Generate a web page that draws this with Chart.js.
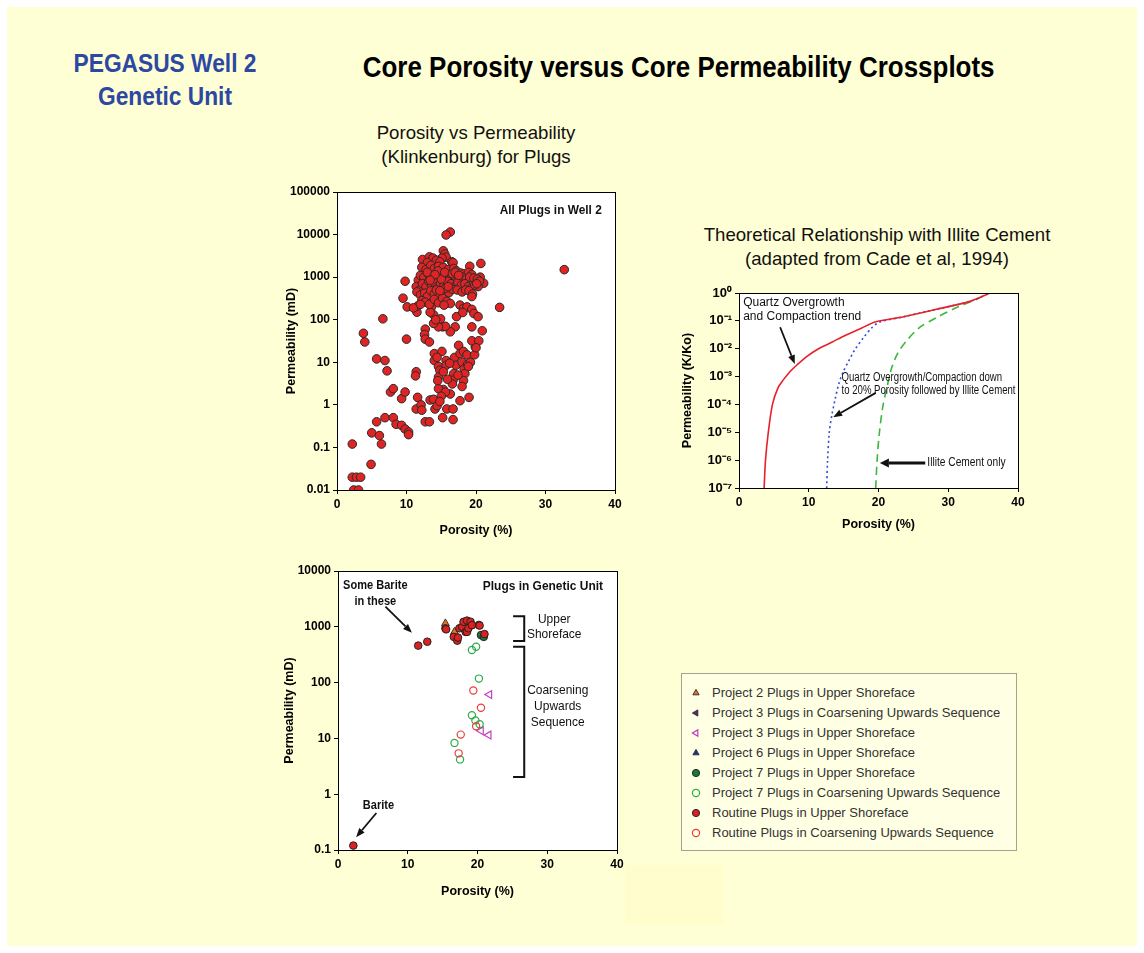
<!DOCTYPE html>
<html>
<head>
<meta charset="utf-8">
<title>Core Porosity versus Core Permeability Crossplots</title>
<script src="https://cdn.jsdelivr.net/npm/chart.js@4.4.1/dist/chart.umd.min.js"></script>
<style>
  body { margin: 0; width: 1144px; height: 953px; background: #fff; position: relative; overflow: hidden;
         font-family: "Liberation Sans", Arial, sans-serif; }
  .sheet { position: absolute; left: 7px; top: 7px; width: 1130px; height: 939px; background: #ffffd5; }
  .ghost { position: absolute; left: 625px; top: 865px; width: 98px; height: 60px; background: #fffdcc; }
  .ttl { position: absolute; text-align: center; white-space: nowrap; transform-origin: 50% 50%; }
  .well { left: 40px; width: 250px; top: 47px; font-size: 25px; line-height: 33px; font-weight: bold; color: #2c48a3; transform: scaleX(0.91); }
  .main { left: 326px; width: 700px; top: 50px; font-size: 29px; line-height: 34px; font-weight: bold; color: #000; transform: scaleX(0.895); }
  .sub1 { left: 326px; width: 300px; top: 121px; font-size: 19px; line-height: 24px; color: #111; transform: scaleX(0.98); }
  .sub2 { left: 677px; width: 400px; top: 223px; font-size: 19px; line-height: 24px; color: #111; transform: scaleX(0.98); }
  canvas { position: absolute; }
  #legend { position: absolute; left: 681px; top: 673px; width: 334px; height: 176px; border: 1px solid #a3a38c;
            background: #ffffe3; font-size: 13px; color: #333; }
  #legend .row { position: absolute; left: 0; height: 20px; line-height: 20px; white-space: nowrap; }
  #legend .row canvas { position: absolute; left: 8px; top: 4px; }
  #legend .row span { position: absolute; left: 30px; }
</style>
</head>
<body>
<div class="sheet"></div>
<div class="ghost"></div>
<div class="ttl well">PEGASUS Well 2<br>Genetic Unit</div>
<div class="ttl main">Core Porosity versus Core Permeability Crossplots</div>
<div class="ttl sub1">Porosity vs Permeability<br>(Klinkenburg) for Plugs</div>
<div class="ttl sub2">Theoretical Relationship with Illite Cement<br>(adapted from Cade et al, 1994)</div>

<canvas id="allPlugs" width="360" height="360" style="left:270px;top:180px"></canvas>
<canvas id="theory" width="370" height="260" style="left:670px;top:280px"></canvas>
<canvas id="genetic" width="360" height="345" style="left:270px;top:560px"></canvas>
<div id="legend"></div>

<script>
// shared axis ticks
const porosityTicks = [0, 10, 20, 30, 40];

// top left: all plugs in well 2, [porosity %, permeability mD]
const plugsLow = [
  [2.2, 0.12], [2.2, 0.02], [2.8, 0.02], [3.4, 0.02], [2.4, 0.01], [3.1, 0.01], [4.9, 0.04],
  [3.8, 48], [4.0, 30], [5.7, 12], [6.9, 11], [7.2, 6.3], [6.6, 105],
  [5.0, 0.22], [5.7, 0.4], [6.1, 0.19], [6.4, 0.12], [6.9, 0.5],
  [7.7, 2], [8.1, 2.4], [8.1, 0.5], [8.5, 0.35], [9.3, 1.4], [9.3, 0.33], [9.8, 2], [9.8, 0.27],
  [10.3, 0.23], [10.3, 0.2], [9.5, 320], [9.8, 800], [10.0, 35], [10.1, 200],
  [11.4, 6], [11.3, 4.8], [11.6, 1.5], [11.4, 0.8], [12.1, 1], [12.2, 0.75], [12.7, 0.4], [13.3, 0.4],
  [11.5, 150], [11.6, 210], [11.0, 190], [12.7, 60], [12.6, 45], [12.7, 35], [13.3, 30],
  [13.4, 1.3], [13.9, 1.35], [14.1, 0.8], [14.4, 0.95], [15.2, 0.5], [15.8, 0.8], [16.7, 0.8],
  [16.7, 0.45], [17.7, 1.25], [19.0, 1.5], [16.3, 1.8], [15.3, 2.3], [14.6, 2.4], [15.6, 2.0],
  [15.0, 1.6], [14.8, 1.2]
];
const plugsMid = [
  [14.0, 16], [14.0, 11], [15.1, 18], [14.6, 8], [14.8, 6.5], [14.6, 4.5], [14.5, 3.7], [15.7, 11],
  [15.7, 8.5], [16.8, 5.4], [16.7, 3.8], [16.6, 3.1], [16.9, 13], [17.1, 8.5], [17.5, 25], [17.7, 16],
  [18.0, 10], [18.2, 18], [18.3, 7], [18.4, 5.4], [18.2, 3.7], [18.0, 2.7], [18.8, 9], [18.7, 15],
  [19.2, 10], [19.8, 15], [19.9, 23], [19.4, 32], [20.4, 32], [20.0, 22], [15.3, 6], [15.9, 4],
  [17.4, 5], [18.9, 8], [16.2, 9.5], [14.4, 13],
  [19.4, 68], [20.9, 55], [17.0, 68], [17.2, 118], [16.3, 52], [15.2, 68], [15.6, 70], [14.6, 68],
  [13.9, 82], [14.9, 105], [13.9, 130], [13.6, 200], [17.7, 220], [18.2, 185], [18.7, 200],
  [18.1, 148], [19.4, 175], [19.7, 140], [20.3, 118], [23.4, 195], [14.2, 100], [13.4, 150]
];
const plugsHigh = [
  [32.7, 1500], [20.7, 2100], [19.1, 1800], [16.3, 11500], [15.7, 9800], [15.3, 4150], [15.5, 3500],
  [15.7, 2950], [15.1, 2800], [21.1, 720], [20.6, 1000], [20.3, 600],
  [12.3, 2600], [13.3, 3000], [13.8, 2800], [14.3, 2500], [14.8, 2300], [16.5, 2300], [16.7, 2200], [13.0, 2200],
  [12.2, 1700], [12.8, 1500], [13.5, 1900], [14.0, 1600], [14.6, 1800], [15.3, 1700], [16.0, 1500],
  [16.8, 1600], [17.2, 1400], [17.8, 1250], [18.3, 1200], [18.9, 1300], [19.4, 1150],
  [11.7, 850], [12.0, 1100], [12.5, 1000], [13.1, 1200], [13.7, 1100], [14.2, 1000], [14.8, 1200],
  [15.2, 950], [15.8, 1100], [16.3, 900], [17.0, 1050], [17.6, 950], [18.1, 1000], [18.6, 900],
  [19.1, 1000], [19.7, 950], [20.2, 900], [20.5, 800],
  [11.4, 600], [11.9, 500], [12.3, 700], [12.8, 600], [13.2, 800], [13.6, 650], [14.0, 750], [14.5, 600],
  [14.9, 700], [15.4, 650], [15.9, 800], [16.4, 700], [16.9, 600], [17.4, 750], [17.9, 650], [18.4, 700],
  [18.9, 600], [19.3, 550], [19.8, 650], [20.1, 700],
  [11.5, 450], [12.0, 380], [12.6, 420], [13.0, 350], [13.5, 480], [14.0, 400], [14.3, 500], [14.7, 350],
  [15.2, 450], [15.6, 380], [16.1, 430], [16.6, 520], [17.3, 500], [18.0, 450], [18.5, 500], [19.0, 480],
  [19.5, 400], [19.4, 350],
  [12.2, 280], [12.7, 260], [13.3, 230], [14.0, 300], [14.6, 250], [15.2, 320], [15.8, 270], [16.3, 240],
  [15.4, 220], [12.0, 230],
  [13.0, 1300], [14.5, 1400], [15.0, 900], [15.5, 1300], [16.6, 1200], [14.1, 1150], [13.4, 850],
  [15.6, 550], [14.8, 480], [16.0, 600], [17.0, 1300], [17.5, 1100]
];
const permTicks = [0.01, 0.1, 1, 10, 100, 1000, 10000, 100000];
const permLabels = ['0.01', '0.1', '1', '10', '100', '1000', '10000', '100000'];

// top right: theoretical curves, porosity % vs K/Ko
const quartzPor = [3.6, 3.8, 4.2, 4.8, 5.6, 6.35, 7.3, 8.3, 9.7, 11.4, 13.3, 15.2, 17.6, 19.5, 23.6, 28.3, 33.1, 36.0];
const quartzK = [1e-7, 1e-6, 1e-5, 1e-4, 4.0e-4, 7.6e-4, 1.5e-3, 2.6e-3, 5.2e-3, 1e-2, 1.7e-2, 3.0e-2, 5.5e-2, 9.1e-2, 0.14, 0.26, 0.5, 1];
const illiteAfterPor = [12.57, 12.7, 12.95, 13.3, 13.8, 14.3, 14.95, 15.7, 16.6, 17.8, 19.0, 20.2, 23.6, 28.3, 33.1, 36.0];
const illiteAfterK = [1e-7, 1e-6, 1e-5, 4e-5, 1.6e-4, 5.4e-4, 1.5e-3, 3.5e-3, 9.1e-3, 2.4e-2, 5.5e-2, 9.1e-2, 0.14, 0.26, 0.5, 1];
const illiteOnlyPor = [19.6, 19.8, 20.1, 20.6, 21.2, 21.9, 22.8, 24.0, 25.9, 28.3, 31.2, 34.1, 35.8];
const illiteOnlyK = [1e-7, 1e-6, 8.3e-6, 7.9e-5, 4e-4, 2.1e-3, 7.2e-3, 1.9e-2, 5.8e-2, 0.13, 0.3, 0.6, 1];
const kTicks = [1e-7, 1e-6, 1e-5, 1e-4, 1e-3, 1e-2, 1e-1, 1];
const kLabels = ['10⁻⁷', '10⁻⁶', '10⁻⁵', '10⁻⁴', '10⁻³', '10⁻²', '10⁻¹', '10⁰'];

// bottom: plugs in genetic unit, [porosity %, permeability mD]
const routineUpper = [[2.2, 0.12], [11.5, 460], [12.8, 540], [15.4, 940], [15.5, 900], [16.6, 660], [17.1, 565],
  [17.2, 640], [17.4, 940], [17.8, 1000], [18.0, 1230], [18.3, 810], [18.5, 1290], [18.5, 810], [18.7, 940],
  [19.0, 1230], [19.2, 1070], [20.2, 1080], [20.3, 1050], [21.0, 740]];
const routineCoarsening = [[19.4, 72], [20.5, 35.5], [19.8, 16.5], [17.6, 11.7], [17.3, 5.4]];
const project2Upper = [[15.4, 1150], [16.7, 810]];
const project3Coarsening = [[18.0, 880], [18.4, 830]];
const project3Upper = [[21.7, 61], [20.5, 13.7], [21.6, 11.5]];
const project6Upper = [[18.6, 1110], [19.0, 1030]];
const project7Upper = [[20.5, 710], [20.9, 660]];
const project7Coarsening = [[19.2, 385], [19.8, 440], [20.2, 118], [19.2, 26], [19.7, 21], [20.3, 18], [16.7, 8.3], [17.5, 4.2]];
const unitTicks = [0.1, 1, 10, 100, 1000, 10000];
const unitLabels = ['0.1', '1', '10', '100', '1000', '10000'];

const legendNames = [
  'Project 2 Plugs in Upper Shoreface',
  'Project 3 Plugs in Coarsening Upwards Sequence',
  'Project 3 Plugs in Upper Shoreface',
  'Project 6 Plugs in Upper Shoreface',
  'Project 7 Plugs in Upper Shoreface',
  'Project 7 Plugs in Coarsening Upwards Sequence',
  'Routine Plugs in Upper Shoreface',
  'Routine Plugs in Coarsening Upwards Sequence'
];

const SANS = "'Liberation Sans', Arial, sans-serif";
const tickFont = { family: SANS, weight: 'bold', size: 12 };
const axisFont = { family: SANS, weight: 'bold', size: 12.5 };

const toXY = pts => pts.map(p => ({ x: p[0], y: p[1] }));
const zip = (xs, ys) => xs.map((x, i) => ({ x, y: ys[i] }));

// white plot box with black frame, plus text / arrows / brackets placed in data units
const framePlugin = {
  id: 'frame',
  beforeDraw(chart) {
    const a = chart.chartArea, ctx = chart.ctx;
    ctx.save();
    ctx.fillStyle = '#fff';
    ctx.fillRect(a.left, a.top, a.right - a.left, a.bottom - a.top);
    ctx.restore();
  },
  afterDraw(chart, args, opts) {
    const a = chart.chartArea, ctx = chart.ctx;
    const px = v => chart.scales.x.getPixelForValue(v);
    const py = v => chart.scales.y.getPixelForValue(v);
    ctx.save();
    ctx.strokeStyle = '#000';
    ctx.lineWidth = 1;
    ctx.strokeRect(Math.round(a.left) + 0.5, Math.round(a.top) + 0.5, Math.round(a.right - a.left), Math.round(a.bottom - a.top));
    (opts.items || []).forEach(it => {
      ctx.fillStyle = '#111';
      ctx.strokeStyle = '#111';
      if (it.type === 'text') {
        ctx.font = it.font;
        ctx.textAlign = it.align || 'left';
        ctx.textBaseline = 'middle';
        it.lines.forEach((t, i) => {
          ctx.save();
          ctx.translate(px(it.x), py(it.y) + i * it.lh);
          ctx.scale(it.sx || 1, 1);
          ctx.fillText(t, 0, 0);
          ctx.restore();
        });
      } else if (it.type === 'arrow') {
        const x0 = px(it.from[0]), y0 = py(it.from[1]);
        const x1 = px(it.to[0]), y1 = py(it.to[1]);
        const ang = Math.atan2(y1 - y0, x1 - x0);
        const hl = it.head || 9, hw = (it.headW || 7) / 2;
        const bx = x1 - Math.cos(ang) * hl, by = y1 - Math.sin(ang) * hl;
        ctx.lineWidth = it.w || 1.6;
        ctx.beginPath();
        ctx.moveTo(x0, y0);
        ctx.lineTo(bx, by);
        ctx.stroke();
        ctx.beginPath();
        ctx.moveTo(x1, y1);
        ctx.lineTo(bx - Math.sin(ang) * hw, by + Math.cos(ang) * hw);
        ctx.lineTo(bx + Math.sin(ang) * hw, by - Math.cos(ang) * hw);
        ctx.closePath();
        ctx.fill();
      } else if (it.type === 'bracket') {
        ctx.lineWidth = 2;
        ctx.beginPath();
        ctx.moveTo(px(it.x1), py(it.y1));
        ctx.lineTo(px(it.x2), py(it.y1));
        ctx.lineTo(px(it.x2), py(it.y2));
        ctx.lineTo(px(it.x1), py(it.y2));
        ctx.stroke();
      }
    });
    ctx.restore();
  }
};

function xAxis(height, titlePad) {
  return {
    type: 'linear', min: 0, max: 40,
    afterBuildTicks: s => { s.ticks = porosityTicks.map(v => ({ value: v })); },
    ticks: { color: '#000', font: tickFont, padding: 3, maxRotation: 0 },
    grid: { drawOnChartArea: false, color: '#000', tickLength: 4 },
    border: { display: false },
    title: { display: true, text: 'Porosity (%)', color: '#000', font: axisFont, padding: { top: 0, bottom: titlePad } },
    afterFit: s => { s.height = height; }
  };
}

function yAxis(ticks, labels, text, width, titlePad, labelFont) {
  return {
    type: 'logarithmic', min: ticks[0], max: ticks[ticks.length - 1],
    afterBuildTicks: s => { s.ticks = ticks.map(v => ({ value: v })); },
    ticks: { color: '#000', font: labelFont || tickFont, padding: 3, autoSkip: false, callback: (v, i) => labels[i] },
    grid: { drawOnChartArea: false, color: '#000', tickLength: 4 },
    border: { display: false },
    title: { display: true, text, color: '#000', font: axisFont, padding: { top: titlePad, bottom: 0 } },
    afterFit: s => { s.width = width; }
  };
}

function baseOptions(pad, scales, items) {
  return {
    responsive: false, animation: false, devicePixelRatio: 1,
    layout: { padding: pad },
    scales,
    plugins: { legend: { display: false }, tooltip: { enabled: false }, frame: { items } }
  };
}

const noteFont = "bold 12px " + SANS;
const plainFont = "12px " + SANS;

// chart 1: all plugs
new Chart(document.getElementById('allPlugs'), {
  type: 'scatter',
  data: {
    datasets: [{
      data: toXY(plugsLow.concat(plugsMid, plugsHigh)),
      backgroundColor: '#e02424', borderColor: '#2a2a2a', borderWidth: 1, pointRadius: 4.3
    }]
  },
  options: baseOptions({ top: 12, right: 15, left: 0, bottom: 0 },
    { x: xAxis(50, 2), y: yAxis(permTicks, permLabels, 'Permeability (mD)', 67, 14) },
    [{ type: 'text', x: 38.1, y: 36000, lines: ['All Plugs in Well 2'], align: 'right', lh: 14, font: "bold 12.5px " + SANS, sx: 0.95 }]),
  plugins: [framePlugin]
});

// chart 2: theoretical relationship
new Chart(document.getElementById('theory'), {
  type: 'scatter',
  data: {
    datasets: [
      { data: zip(quartzPor, quartzK), showLine: true, borderColor: '#e8202a', borderWidth: 1.6, pointRadius: 0, tension: 0.3 },
      { data: zip(illiteAfterPor, illiteAfterK), showLine: true, borderColor: '#3050d0', borderWidth: 1.6, borderDash: [2, 3], pointRadius: 0, tension: 0.3 },
      { data: zip(illiteOnlyPor, illiteOnlyK), showLine: true, borderColor: '#3cb83c', borderWidth: 1.6, borderDash: [8, 5], pointRadius: 0, tension: 0.3 }
    ]
  },
  options: baseOptions({ top: 13, right: 22, left: 0, bottom: 0 },
    { x: xAxis(52, 8), y: yAxis(kTicks, kLabels, 'Permeability (K/Ko)', 69, 10, { family: SANS, weight: 'bold', size: 13 }) },
    [
      { type: 'text', x: 0.6, y: 0.44, lines: ['Quartz Overgrowth', 'and Compaction trend'], lh: 14, font: plainFont },
      { type: 'arrow', from: [5.9, 0.059], to: [8.0, 2.8e-3], w: 1.8 },
      { type: 'text', x: 14.7, y: 8.9e-4, lines: ['Quartz Overgrowth/Compaction down', 'to 20% Porosity followed by Illite Cement'], lh: 12.5, font: "12px " + SANS, sx: 0.8 },
      { type: 'arrow', from: [19.6, 2.6e-4], to: [13.5, 3.5e-5], w: 1.8 },
      { type: 'text', x: 27.0, y: 7.9e-7, lines: ['Illite Cement only'], lh: 14, font: "12px " + SANS, sx: 0.85 },
      { type: 'arrow', from: [26.7, 7.9e-7], to: [20.2, 7.9e-7], w: 3, head: 9, headW: 9 }
    ]),
  plugins: [framePlugin]
});

// chart 3: plugs in genetic unit
const geneticSets = [
  { data: toXY(routineCoarsening), pointStyle: 'circle', backgroundColor: 'rgba(0,0,0,0)', borderColor: '#ee3b3b', pointRadius: 3.6, borderWidth: 1.2 },
  { data: toXY(project7Coarsening), pointStyle: 'circle', backgroundColor: 'rgba(0,0,0,0)', borderColor: '#2eaa4a', pointRadius: 3.6, borderWidth: 1.2 },
  { data: toXY(project3Upper), pointStyle: 'triangle', rotation: -90, backgroundColor: 'rgba(0,0,0,0)', borderColor: '#c040c0', pointRadius: 4.5, borderWidth: 1.2 },
  { data: toXY(routineUpper), pointStyle: 'circle', backgroundColor: '#dd2020', borderColor: '#222', pointRadius: 3.8, borderWidth: 1 },
  { data: toXY(project7Upper), pointStyle: 'circle', backgroundColor: '#1a7a3a', borderColor: '#222', pointRadius: 3.8, borderWidth: 1 },
  { data: toXY(project2Upper), pointStyle: 'triangle', backgroundColor: '#e8731e', borderColor: '#333', pointRadius: 4.5, borderWidth: 1 },
  { data: toXY(project3Coarsening), pointStyle: 'triangle', rotation: -90, backgroundColor: '#6a1f6e', borderColor: '#333', pointRadius: 4.5, borderWidth: 1 },
  { data: toXY(project6Upper), pointStyle: 'triangle', backgroundColor: '#1e2e9a', borderColor: '#333', pointRadius: 4.5, borderWidth: 1 }
];
new Chart(document.getElementById('genetic'), {
  type: 'scatter',
  data: { datasets: geneticSets },
  options: baseOptions({ top: 11, right: 13, left: 0, bottom: 0 },
    { x: xAxis(55, 6), y: yAxis(unitTicks, unitLabels, 'Permeability (mD)', 68, 12) },
    [
      { type: 'text', x: 38.0, y: 5400, lines: ['Plugs in Genetic Unit'], align: 'right', lh: 14, font: "bold 13px " + SANS, sx: 0.92 },
      { type: 'text', x: 5.35, y: 5400, lines: ['Some Barite', 'in these'], align: 'center', lh: 16, font: noteFont, sx: 0.92 },
      { type: 'arrow', from: [6.8, 2290], to: [10.6, 783], w: 1.8 },
      { type: 'bracket', x1: 25.1, x2: 26.7, y1: 1550, y2: 556 },
      { type: 'bracket', x1: 25.1, x2: 26.7, y1: 437, y2: 2.03 },
      { type: 'text', x: 31.0, y: 1380, lines: ['Upper', 'Shoreface'], align: 'center', lh: 15, font: "13px " + SANS, sx: 0.92 },
      { type: 'text', x: 31.5, y: 73.6, lines: ['Coarsening', 'Upwards', 'Sequence'], align: 'center', lh: 16, font: "13px " + SANS, sx: 0.92 },
      { type: 'text', x: 5.8, y: 0.62, lines: ['Barite'], align: 'center', lh: 14, font: noteFont, sx: 0.92 },
      { type: 'arrow', from: [5.5, 0.46], to: [2.6, 0.17], w: 1.8 }
    ]),
  plugins: [framePlugin]
});

// legend box for the bottom chart, in the original order
const legendOrder = [5, 6, 2, 7, 4, 1, 3, 0];
const legendBox = document.getElementById('legend');
legendNames.forEach((name, i) => {
  const ds = geneticSets[legendOrder[i]];
  const row = document.createElement('div');
  row.className = 'row';
  row.style.top = (9 + i * 20) + 'px';
  const c = document.createElement('canvas');
  c.width = 12; c.height = 12;
  const ctx = c.getContext('2d');
  ctx.fillStyle = ds.backgroundColor;
  ctx.strokeStyle = ds.borderColor;
  ctx.lineWidth = ds.borderWidth;
  Chart.helpers.drawPoint(ctx, { pointStyle: ds.pointStyle, rotation: ds.rotation || 0, radius: 3.6, borderWidth: ds.borderWidth }, 6, 6);
  const s = document.createElement('span');
  s.textContent = name;
  row.appendChild(c);
  row.appendChild(s);
  legendBox.appendChild(row);
});
</script>
</body>
</html>
